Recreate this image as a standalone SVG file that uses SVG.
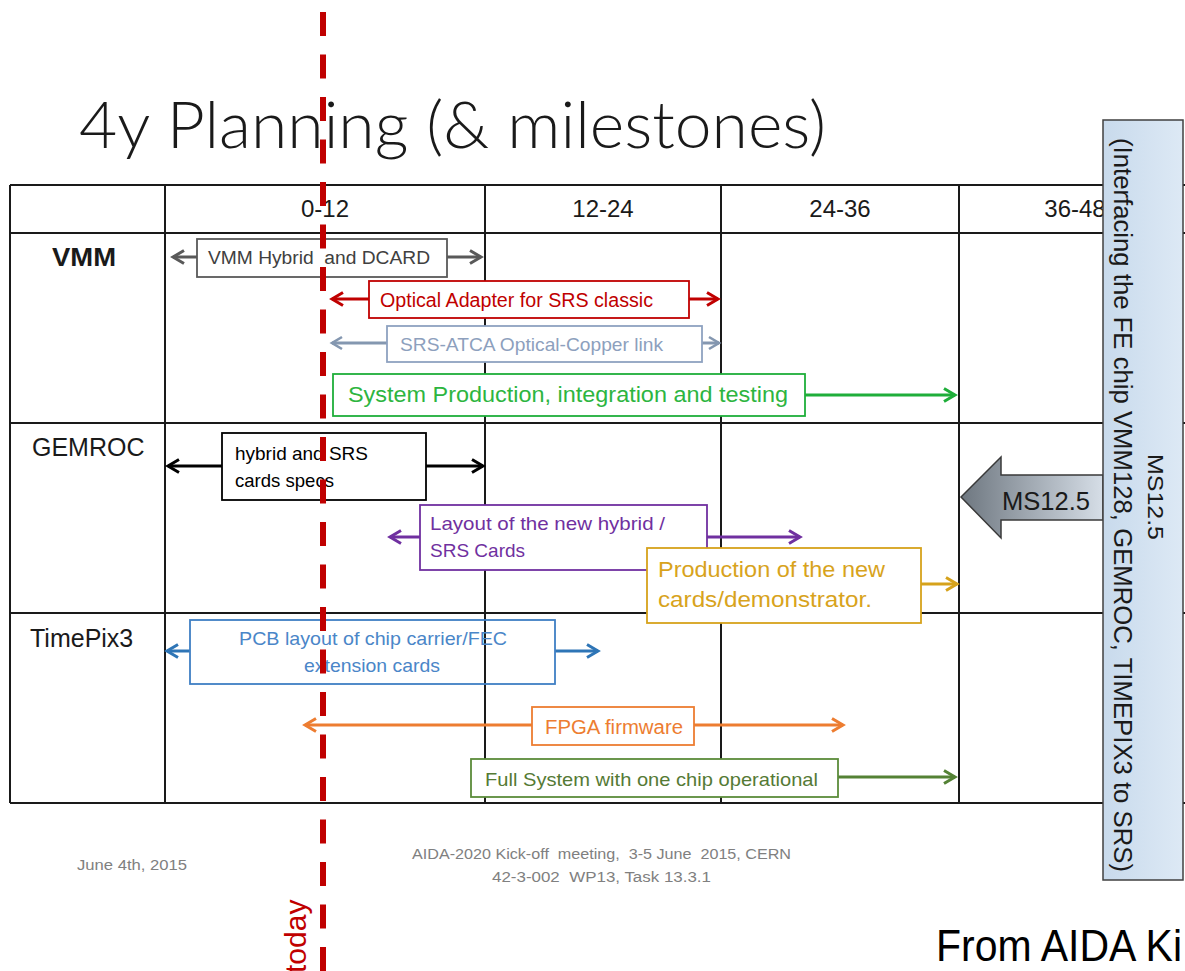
<svg xmlns="http://www.w3.org/2000/svg" width="1185" height="971" viewBox="0 0 1185 971">
<defs>
<style>
text { font-family: "Liberation Sans", Arial, sans-serif; }
.grid line { stroke: #1a1a1a; stroke-width: 2; }
.hdr { font-size: 24px; fill: #1a1a1a; text-anchor: middle; }
.row { font-size: 25px; fill: #1a1a1a; }
.box { fill: #ffffff; stroke-width: 1.8; }
.conn line { stroke-width: 3; fill: none; }
.foot { font-size: 14px; fill: #808080; }
</style>
<linearGradient id="msbox" x1="0" y1="0" x2="1" y2="0">
<stop offset="0" stop-color="#c8daec"/>
<stop offset="1" stop-color="#dde9f5"/>
</linearGradient>
<linearGradient id="msarrow" x1="0" y1="0" x2="1" y2="0">
<stop offset="0" stop-color="#6e7780"/>
<stop offset="1" stop-color="#d6dee7"/>
</linearGradient>
<marker id="m-gray" viewBox="-14 -9 18 18" refX="0" refY="0" markerWidth="18" markerHeight="18" markerUnits="userSpaceOnUse" orient="auto"><path d="M-11,-6.5 L0,0 L-11,6.5" fill="none" stroke="#595959" stroke-width="3"/></marker>
<marker id="m-red" viewBox="-14 -9 18 18" refX="0" refY="0" markerWidth="18" markerHeight="18" markerUnits="userSpaceOnUse" orient="auto"><path d="M-11,-6.5 L0,0 L-11,6.5" fill="none" stroke="#c00000" stroke-width="3"/></marker>
<marker id="m-steel" viewBox="-14 -9 18 18" refX="0" refY="0" markerWidth="18" markerHeight="18" markerUnits="userSpaceOnUse" orient="auto"><path d="M-10,-6 L0,0 L-10,6" fill="none" stroke="#8497b0" stroke-width="2.6"/></marker>
<marker id="m-green" viewBox="-14 -9 18 18" refX="0" refY="0" markerWidth="18" markerHeight="18" markerUnits="userSpaceOnUse" orient="auto"><path d="M-11,-6.5 L0,0 L-11,6.5" fill="none" stroke="#1fae3a" stroke-width="3"/></marker>
<marker id="m-black" viewBox="-14 -9 18 18" refX="0" refY="0" markerWidth="18" markerHeight="18" markerUnits="userSpaceOnUse" orient="auto"><path d="M-11,-6.5 L0,0 L-11,6.5" fill="none" stroke="#000000" stroke-width="3"/></marker>
<marker id="m-purple" viewBox="-14 -9 18 18" refX="0" refY="0" markerWidth="18" markerHeight="18" markerUnits="userSpaceOnUse" orient="auto"><path d="M-11,-6.5 L0,0 L-11,6.5" fill="none" stroke="#7030a0" stroke-width="3"/></marker>
<marker id="m-gold" viewBox="-14 -9 18 18" refX="0" refY="0" markerWidth="18" markerHeight="18" markerUnits="userSpaceOnUse" orient="auto"><path d="M-11,-6.5 L0,0 L-11,6.5" fill="none" stroke="#d6a21b" stroke-width="3"/></marker>
<marker id="m-blue" viewBox="-14 -9 18 18" refX="0" refY="0" markerWidth="18" markerHeight="18" markerUnits="userSpaceOnUse" orient="auto"><path d="M-11,-6.5 L0,0 L-11,6.5" fill="none" stroke="#2e75b6" stroke-width="3"/></marker>
<marker id="m-orange" viewBox="-14 -9 18 18" refX="0" refY="0" markerWidth="18" markerHeight="18" markerUnits="userSpaceOnUse" orient="auto"><path d="M-11,-6.5 L0,0 L-11,6.5" fill="none" stroke="#ed7d31" stroke-width="3"/></marker>
<marker id="m-olive" viewBox="-14 -9 18 18" refX="0" refY="0" markerWidth="18" markerHeight="18" markerUnits="userSpaceOnUse" orient="auto"><path d="M-11,-6.5 L0,0 L-11,6.5" fill="none" stroke="#548235" stroke-width="3"/></marker>
</defs>

<rect x="0" y="0" width="1185" height="971" fill="#ffffff"/>

<g id="title">
<text x="79" y="148" font-size="65" fill="#1a1a1a" textLength="747" lengthAdjust="spacingAndGlyphs" style="font-family: Lato, 'Liberation Sans', sans-serif; font-weight: 300;">4y Planning (&amp; milestones)</text>
</g>

<g id="grid" class="grid">
<line x1="10" y1="185" x2="1185" y2="185"/>
<line x1="10" y1="233" x2="1185" y2="233"/>
<line x1="10" y1="423" x2="1185" y2="423"/>
<line x1="10" y1="613" x2="1185" y2="613"/>
<line x1="10" y1="803" x2="1185" y2="803"/>
<line x1="10" y1="185" x2="10" y2="803"/>
<line x1="165" y1="185" x2="165" y2="803"/>
<line x1="485" y1="185" x2="485" y2="803"/>
<line x1="721" y1="185" x2="721" y2="803"/>
<line x1="959" y1="185" x2="959" y2="803"/>
</g>

<g id="headers">
<text class="hdr" x="325" y="217">0-12</text>
<text class="hdr" x="603" y="217">12-24</text>
<text class="hdr" x="840" y="217">24-36</text>
<text class="hdr" x="1075" y="217">36-48</text>
</g>

<g id="row-vmm"><text class="row" x="52" y="266" font-weight="bold" textLength="64" lengthAdjust="spacingAndGlyphs">VMM</text></g>
<g id="row-gemroc"><text class="row" x="32" y="456">GEMROC</text></g>
<g id="row-timepix3"><text class="row" x="30" y="647">TimePix3</text></g>

<g id="connectors" class="conn">
<line x1="197" y1="257" x2="173" y2="257" stroke="#595959" marker-end="url(#m-gray)"/>
<line x1="447" y1="257" x2="481" y2="257" stroke="#595959" marker-end="url(#m-gray)"/>
<line x1="369" y1="299" x2="332" y2="299" stroke="#c00000" marker-end="url(#m-red)"/>
<line x1="689" y1="299" x2="718" y2="299" stroke="#c00000" marker-end="url(#m-red)"/>
<line x1="387" y1="343" x2="332" y2="343" stroke="#8497b0" stroke-width="2.6" marker-end="url(#m-steel)"/>
<line x1="702" y1="343" x2="719" y2="343" stroke="#8497b0" stroke-width="2.6" marker-end="url(#m-steel)"/>
<line x1="805" y1="395" x2="955" y2="395" stroke="#1fae3a" marker-end="url(#m-green)"/>
<line x1="222" y1="466" x2="168" y2="466" stroke="#000000" marker-end="url(#m-black)"/>
<line x1="425" y1="466" x2="483" y2="466" stroke="#000000" marker-end="url(#m-black)"/>
<line x1="420" y1="537" x2="390" y2="537" stroke="#7030a0" marker-end="url(#m-purple)"/>
<line x1="707" y1="537" x2="800" y2="537" stroke="#7030a0" marker-end="url(#m-purple)"/>
<line x1="920" y1="584" x2="957" y2="584" stroke="#d6a21b" marker-end="url(#m-gold)"/>
<line x1="190" y1="651" x2="167" y2="651" stroke="#2e75b6" marker-end="url(#m-blue)"/>
<line x1="555" y1="651" x2="598" y2="651" stroke="#2e75b6" marker-end="url(#m-blue)"/>
<line x1="532" y1="725" x2="305" y2="725" stroke="#ed7d31" marker-end="url(#m-orange)"/>
<line x1="694" y1="725" x2="843" y2="725" stroke="#ed7d31" marker-end="url(#m-orange)"/>
<line x1="838" y1="777" x2="955" y2="777" stroke="#548235" marker-end="url(#m-olive)"/>
</g>

<g id="task-vmm-hybrid">
<rect class="box" x="197" y="239" width="250" height="38" stroke="#595959"/>
<text x="208" y="264" font-size="18" fill="#404040" textLength="222" lengthAdjust="spacingAndGlyphs" xml:space="preserve">VMM Hybrid  and DCARD</text>
</g>
<g id="task-optical-adapter">
<rect class="box" x="369" y="281" width="320" height="37" stroke="#c00000"/>
<text x="380" y="307" font-size="20" fill="#c00000" textLength="273" lengthAdjust="spacingAndGlyphs">Optical Adapter for SRS classic</text>
</g>
<g id="task-srs-atca">
<rect class="box" x="387" y="326" width="315" height="36" stroke="#8ea2c0"/>
<text x="400" y="351" font-size="19" fill="#8da0bd" textLength="263" lengthAdjust="spacingAndGlyphs">SRS-ATCA Optical-Copper link</text>
</g>
<g id="task-system-production">
<rect class="box" x="333" y="374" width="472" height="42" stroke="#1fae3a"/>
<text x="348" y="402" font-size="22" fill="#2db53f" textLength="440" lengthAdjust="spacingAndGlyphs">System Production, integration and testing</text>
</g>
<g id="task-hybrid-specs">
<rect class="box" x="222" y="433" width="204" height="67" stroke="#000000"/>
<text x="235" y="460" font-size="19" fill="#000000" textLength="133" lengthAdjust="spacingAndGlyphs">hybrid and SRS</text>
<text x="235" y="487" font-size="19" fill="#000000" textLength="99" lengthAdjust="spacingAndGlyphs">cards specs</text>
</g>
<g id="task-layout">
<rect class="box" x="420" y="505" width="287" height="65" stroke="#7030a0"/>
<text x="430" y="530" font-size="19" fill="#7030a0" textLength="235" lengthAdjust="spacingAndGlyphs">Layout of the new hybrid /</text>
<text x="430" y="557" font-size="19" fill="#7030a0">SRS Cards</text>
</g>
<g id="task-production">
<rect class="box" x="647" y="548" width="274" height="75" stroke="#d6a21b"/>
<text x="658" y="577" font-size="22" fill="#d8a31c" textLength="227" lengthAdjust="spacingAndGlyphs">Production of the new</text>
<text x="658" y="607" font-size="22" fill="#d8a31c" textLength="214" lengthAdjust="spacingAndGlyphs">cards/demonstrator.</text>
</g>
<g id="task-pcb-layout">
<rect x="190" y="620" width="365" height="64" fill="none" stroke="#3f7fc4" stroke-width="1.8"/>
<text x="373" y="645" font-size="19" fill="#4a86c8" text-anchor="middle" textLength="268" lengthAdjust="spacingAndGlyphs">PCB layout of chip carrier/FEC</text>
<text x="372" y="672" font-size="19" fill="#4a86c8" text-anchor="middle" textLength="136" lengthAdjust="spacingAndGlyphs">extension cards</text>
</g>
<g id="task-fpga">
<rect class="box" x="532" y="707" width="162" height="38" stroke="#ed7d31"/>
<text x="545" y="734" font-size="20" fill="#ed7d31" textLength="138" lengthAdjust="spacingAndGlyphs">FPGA firmware</text>
</g>
<g id="task-full-system">
<rect class="box" x="471" y="759" width="367" height="38" stroke="#5b8c3a"/>
<text x="485" y="786" font-size="19" fill="#557a35" textLength="333" lengthAdjust="spacingAndGlyphs">Full System with one chip operational</text>
</g>

<g id="ms-arrow">
<polygon points="961,497 1001,457 1001,475 1103,475 1103,520 1001,520 1001,538" fill="url(#msarrow)" stroke="#3a3a3a" stroke-width="1.5"/>
<text x="1002" y="510" font-size="25" fill="#1a1a1a" textLength="88" lengthAdjust="spacingAndGlyphs">MS12.5</text>
</g>

<g id="ms-box">
<rect x="1103" y="120" width="80" height="760" fill="url(#msbox)" stroke="#404040" stroke-width="1.5"/>
<text transform="translate(1148,497) rotate(90)" font-size="22" fill="#1a1a1a" text-anchor="middle" textLength="86" lengthAdjust="spacingAndGlyphs">MS12.5</text>
<text transform="translate(1114,505) rotate(90)" font-size="25" fill="#1a1a1a" text-anchor="middle" textLength="734" lengthAdjust="spacingAndGlyphs">(Interfacing the FE chip VMM128, GEMROC, TIMEPIX3 to SRS)</text>
</g>

<g id="footer">
<text class="foot" x="77" y="870" textLength="110" lengthAdjust="spacingAndGlyphs">June 4th, 2015</text>
<text class="foot" x="412" y="859" textLength="379" lengthAdjust="spacingAndGlyphs" xml:space="preserve">AIDA-2020 Kick-off  meeting,  3-5 June  2015, CERN</text>
<text class="foot" x="492" y="882" textLength="219" lengthAdjust="spacingAndGlyphs" xml:space="preserve">42-3-002  WP13, Task 13.3.1</text>
<text x="936" y="961" font-size="44" fill="#000000" textLength="246" lengthAdjust="spacingAndGlyphs">From AIDA Ki</text>
</g>

<g id="today">
<line x1="323" y1="12" x2="323" y2="975" stroke="#c00000" stroke-width="6" stroke-dasharray="24 18.5"/>
<text transform="translate(306,973) rotate(-90)" font-size="30" fill="#c00000">today</text>
</g>
</svg>
